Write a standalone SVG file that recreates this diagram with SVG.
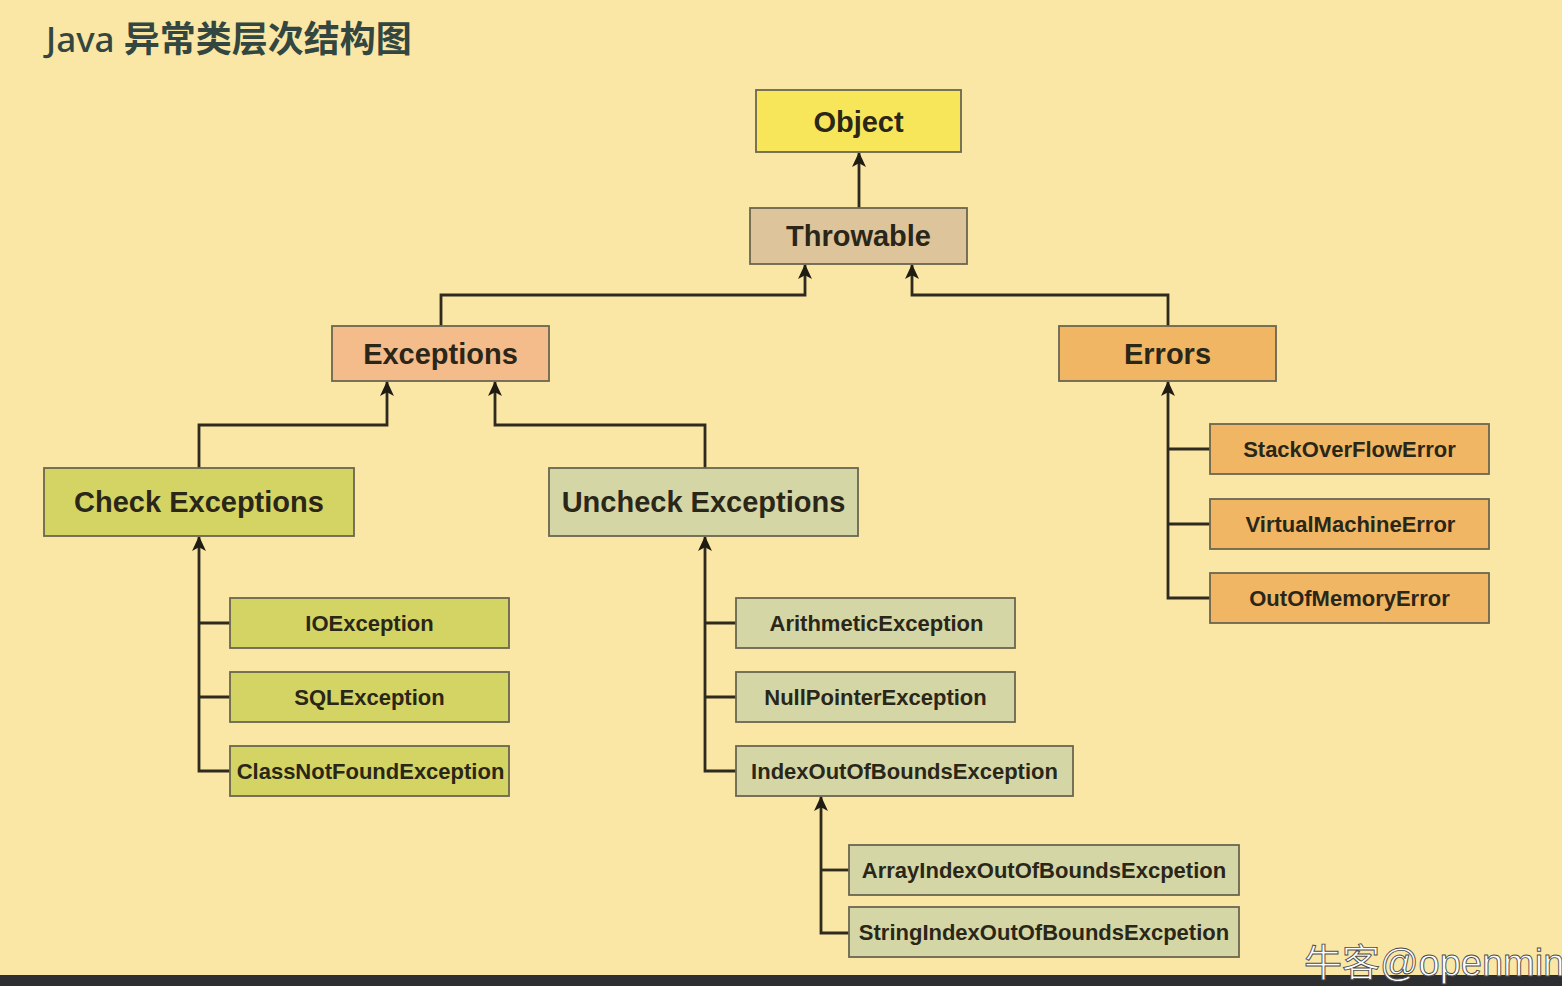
<svg xmlns="http://www.w3.org/2000/svg" width="1562" height="986" viewBox="0 0 1562 986">
<defs>
<style>
.box{stroke:#6a6650;stroke-width:1.8}
.lbl{font-family:"Liberation Sans",Arial,sans-serif;font-weight:bold;fill:#2a2618;text-anchor:middle}
.big{font-size:29px}
.sm{font-size:22px}
.ln{fill:none;stroke:#2e2a1e;stroke-width:2.8}
</style>
<marker id="ah" viewBox="0 0 14 14" refX="13" refY="7" markerWidth="15" markerHeight="15" markerUnits="userSpaceOnUse" orient="auto">
<path d="M0,0.5 L14,7 L0,13.5 L3.5,7 Z" fill="#1f1c14"/>
</marker>
</defs>
<rect x="0" y="0" width="1562" height="986" fill="#fae7a6"/>
<rect x="0" y="975" width="1562" height="11" fill="#2c2e31"/>
<text x="46" y="52" font-family="'Noto Sans','Noto Sans CJK SC',sans-serif" font-size="35" font-weight="500" fill="#33463f">Java <tspan font-weight="bold" font-size="36" font-family="'Noto Sans CJK SC',sans-serif">异常类层次结构图</tspan></text>

<g id="connectors">
<path class="ln" d="M859,208 V153" marker-end="url(#ah)"/>
<path class="ln" d="M441,326 V295 H805 V265" marker-end="url(#ah)"/>
<path class="ln" d="M1168,326 V295 H912 V265" marker-end="url(#ah)"/>
<path class="ln" d="M199,468 V425 H387 V382" marker-end="url(#ah)"/>
<path class="ln" d="M705,468 V425 H495 V382" marker-end="url(#ah)"/>
<path class="ln" d="M230,771 H199 V537" marker-end="url(#ah)"/>
<path class="ln" d="M199,623 H230 M199,697 H230"/>
<path class="ln" d="M736,771 H705 V537" marker-end="url(#ah)"/>
<path class="ln" d="M705,623 H736 M705,697 H736"/>
<path class="ln" d="M849,933 H821 V797" marker-end="url(#ah)"/>
<path class="ln" d="M821,870 H849"/>
<path class="ln" d="M1210,598 H1168 V382" marker-end="url(#ah)"/>
<path class="ln" d="M1168,449 H1210 M1168,524 H1210"/>
</g>

<g id="object"><rect class="box" x="756" y="90" width="205" height="62" fill="#f8e65a"/><text class="lbl big" x="858.5" y="131.5">Object</text></g>
<g id="throwable"><rect class="box" x="750" y="208" width="217" height="56" fill="#dec49a"/><text class="lbl big" x="858.5" y="246">Throwable</text></g>
<g id="exceptions"><rect class="box" x="332" y="326" width="217" height="55" fill="#f3bc8a"/><text class="lbl big" x="440.5" y="364">Exceptions</text></g>
<g id="errors"><rect class="box" x="1059" y="326" width="217" height="55" fill="#f0b664"/><text class="lbl big" x="1167.5" y="364">Errors</text></g>
<g id="check"><rect class="box" x="44" y="468" width="310" height="68" fill="#d4d464"/><text class="lbl big" x="199" y="512">Check Exceptions</text></g>
<g id="uncheck"><rect class="box" x="549" y="468" width="309" height="68" fill="#d4d6a6"/><text class="lbl big" x="703.5" y="512">Uncheck Exceptions</text></g>

<g id="ioexception"><rect class="box" x="230" y="598" width="279" height="50" fill="#d4d464"/><text class="lbl sm" x="369.5" y="631">IOException</text></g>
<g id="sqlexception"><rect class="box" x="230" y="672" width="279" height="50" fill="#d4d464"/><text class="lbl sm" x="369.5" y="705">SQLException</text></g>
<g id="classnotfound"><rect class="box" x="230" y="746" width="279" height="50" fill="#d4d464"/><text class="lbl sm" x="370.5" y="779">ClassNotFoundException</text></g>

<g id="arithmetic"><rect class="box" x="736" y="598" width="279" height="50" fill="#d4d6a6"/><text class="lbl sm" x="876.5" y="631">ArithmeticException</text></g>
<g id="nullpointer"><rect class="box" x="736" y="672" width="279" height="50" fill="#d4d6a6"/><text class="lbl sm" x="875.5" y="705">NullPointerException</text></g>
<g id="indexoutofbounds"><rect class="box" x="736" y="746" width="337" height="50" fill="#d4d6a6"/><text class="lbl sm" x="904.5" y="779">IndexOutOfBoundsException</text></g>

<g id="arrayindex"><rect class="box" x="849" y="845" width="390" height="50" fill="#d4d6a6"/><text class="lbl sm" x="1044" y="878">ArrayIndexOutOfBoundsExcpetion</text></g>
<g id="stringindex"><rect class="box" x="849" y="907" width="390" height="50" fill="#d4d6a6"/><text class="lbl sm" x="1044" y="940">StringIndexOutOfBoundsExcpetion</text></g>

<g id="stackoverflow"><rect class="box" x="1210" y="424" width="279" height="50" fill="#f0b664"/><text class="lbl sm" x="1349.5" y="457">StackOverFlowError</text></g>
<g id="virtualmachine"><rect class="box" x="1210" y="499" width="279" height="50" fill="#f0b664"/><text class="lbl sm" x="1350.5" y="532">VirtualMachineError</text></g>
<g id="outofmemory"><rect class="box" x="1210" y="573" width="279" height="50" fill="#f0b664"/><text class="lbl sm" x="1349.5" y="606">OutOfMemoryError</text></g>

<text x="1304" y="976" font-family="'Liberation Sans','Noto Sans CJK SC',sans-serif" font-size="38" fill="#ffffff" stroke="#4a4a4a" stroke-width="0.9">牛客@openmin</text>
</svg>
